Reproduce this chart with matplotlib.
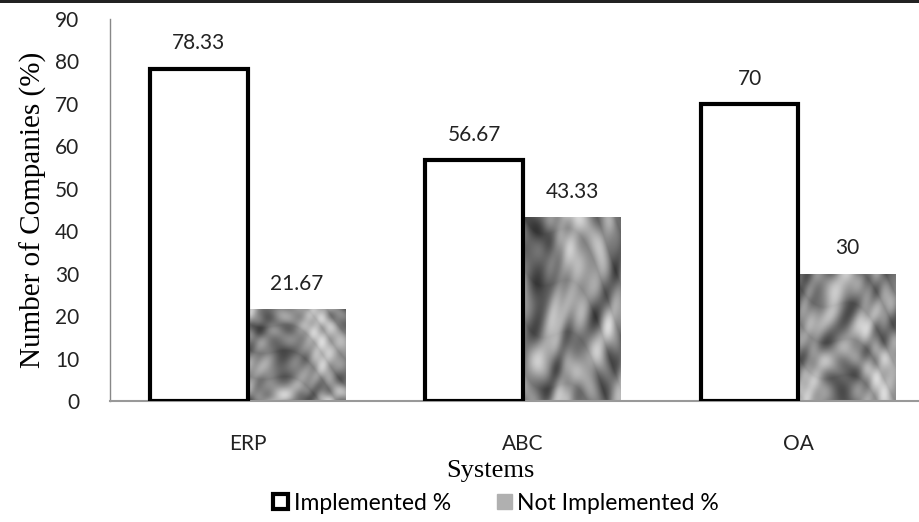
import numpy as np
import matplotlib.pyplot as plt
from matplotlib.patches import Patch, Rectangle

# Data
systems = ["ERP", "ABC", "OA"]
implemented = [78.33, 56.67, 70]
not_implemented = [21.67, 43.33, 30]
impl_labels = ["78.33", "56.67", "70"]
not_impl_labels = ["21.67", "43.33", "30"]
y_ticks = [0, 10, 20, 30, 40, 50, 60, 70, 80, 90]

plt.rcParams["font.family"] = ["Lato", "DejaVu Sans"]

fig = plt.figure(figsize=(9.19, 5.22), dpi=100)
ax = fig.add_axes([0.1197, 0.2318, 0.899, 0.7318])

x = np.arange(len(systems))
w = 0.355

# Crumpled paper-like texture (deterministic, built from sinusoids),
# one wide sheet sliced into a piece per bar
gx, gy = np.meshgrid(np.linspace(0, 3, 480), np.linspace(0, 1, 160))
tex = (np.sin(9 * gx + 6 * gy + 2.3 * np.sin(4.3 * gy + 1.3 * gx + 1.1))
       + 0.9 * np.abs(np.sin(7.7 * gx - 11.1 * gy + 1.7 * np.cos(5.9 * gx)))
       + 0.6 * np.sin(15.3 * gx + 5.1 * gy + 3 * np.sin(2.7 * gx + 2.9 * gy))
       + 0.4 * np.sin(21.1 * gx - 14.7 * gy + 2 * np.cos(7.3 * gy + gx))
       + 0.25 * np.sin(31.7 * gx + 23.1 * gy + 1.5 * np.sin(9.1 * gx)))
tex = (tex - tex.min()) / (tex.max() - tex.min())

impl_bars = ax.bar(x - w / 2, implemented, w, facecolor="white",
                   edgecolor="black", linewidth=3, zorder=3)
not_bars = ax.bar(x + w / 2, not_implemented, w, facecolor="#8c8c8c",
                  edgecolor="none", linewidth=0, zorder=2)

for i, b in enumerate(not_bars):
    x0, y0 = b.get_x(), b.get_y()
    im = ax.imshow(tex[:, 160 * i:160 * (i + 1)], cmap="gray",
                   vmin=-0.3, vmax=1.2,
                   extent=[x0, x0 + b.get_width(), y0, y0 + b.get_height()],
                   aspect="auto", zorder=2.5, interpolation="bilinear")
    im.set_clip_path(b)

for b, lab in zip(impl_bars, impl_labels):
    ax.text(b.get_x() + b.get_width() / 2, b.get_height() + 3.6, lab,
            ha="center", va="bottom", fontsize=15, color="#222222")
for b, lab in zip(not_bars, not_impl_labels):
    ax.text(b.get_x() + b.get_width() / 2, b.get_height() + 3.6, lab,
            ha="center", va="bottom", fontsize=15, color="#222222")

ax.set_xlim(-0.5, 2.5)
ax.set_ylim(0, 90)
ax.set_yticks(y_ticks)
ax.set_xticks(x)
ax.set_xticklabels(systems)
ax.tick_params(axis="both", length=0, labelsize=15, colors="#222222")
ax.tick_params(axis="x", pad=24)
ax.tick_params(axis="y", pad=22)

for s in ["top", "right"]:
    ax.spines[s].set_visible(False)
ax.spines["left"].set_color("#888888")
ax.spines["bottom"].set_color("#999999")
ax.spines["left"].set_linewidth(1)
ax.spines["bottom"].set_linewidth(1.5)

ax.set_xlabel("Systems", family="Liberation Serif", fontsize=19, labelpad=3)
ax.xaxis.set_label_coords(0.461, -0.155)
ax.set_ylabel("Number of Companies (%)", family="Liberation Serif",
              fontsize=21, labelpad=6)

handles = [Patch(facecolor="white", edgecolor="black", linewidth=3),
           Patch(facecolor="#b0b0b0", edgecolor="#b0b0b0")]
fig.legend(handles, ["Implemented %", "Not Implemented %"], loc="center",
           bbox_to_anchor=(0.54, 0.036), ncol=2, frameon=False, fontsize=16.5,
           handlelength=0.65, handleheight=0.65, handletextpad=0.25,
           columnspacing=2.0)

# dark border strip at top of the image
fig.patches.append(Rectangle((0, 0.994), 1, 0.006, transform=fig.transFigure,
                             facecolor="#222222", edgecolor="none"))

fig.savefig("out.png", dpi=100)
